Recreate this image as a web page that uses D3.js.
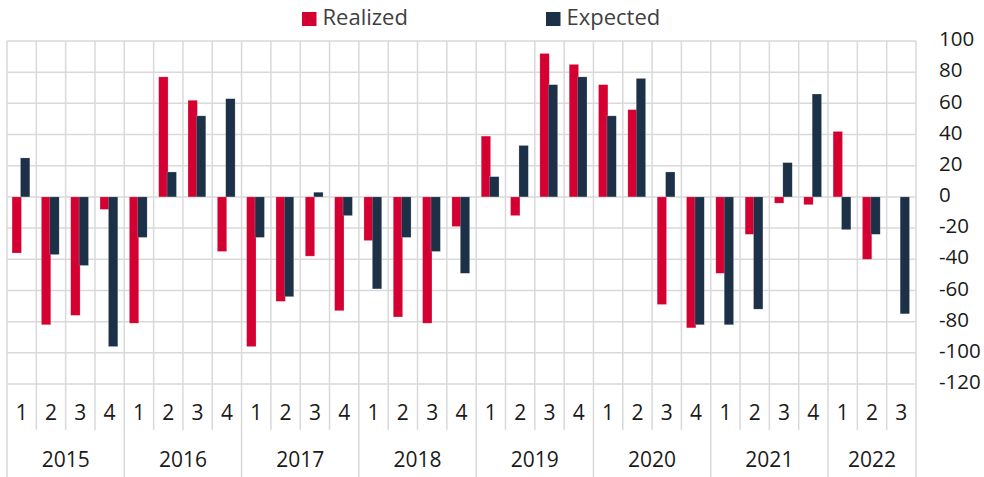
<!DOCTYPE html>
<html>
<head>
<meta charset="utf-8">
<script src="https://cdn.jsdelivr.net/npm/d3@7"></script>
<style>
  body { margin: 0; background: #fff; }
  text { font-family: "Open Sans", sans-serif; }
</style>
</head>
<body>
<script>
// quarters 2015Q1 .. 2022Q3
const years = ["2015", "2016", "2017", "2018", "2019", "2020", "2021", "2022"];
const quarters = ["1", "2", "3", "4"];
const realized = [
  -36, -82, -76, -8,
  -81, 77, 62, -35,
  -96, -67, -38, -73,
  -28, -77, -81, -19,
  39, -12, 92, 85,
  72, 56, -69, -84,
  -49, -24, -4, -5,
  42, -40, null
];
const expected = [
  25, -37, -44, -96,
  -26, 16, 52, 63,
  -26, -64, 3, -12,
  -59, -26, -35, -49,
  13, 33, 72, 77,
  52, 76, 16, -82,
  -82, -72, 22, 66,
  -21, -24, -75
];
const yTicks = [100, 80, 60, 40, 20, 0, -20, -40, -60, -80, -100, -120];

const W = 984, H = 477;
const plotL = 7, plotR = 916, plotT = 41, plotB = 384;
const red = "#d40032", navy = "#1c3048", grid = "#d9d9d9";

const cats = [];
years.forEach(yr => quarters.forEach(q => {
  if (cats.length < realized.length) cats.push(yr + "-" + q);
}));

const x = d3.scaleBand().domain(cats).range([plotL, plotR]).padding(0);
const y = d3.scaleLinear().domain([-120, 100]).range([plotB, plotT]);

const svg = d3.select("body").append("svg")
  .attr("width", W).attr("height", H);

// horizontal gridlines
svg.append("g").selectAll("line").data(yTicks).enter().append("line")
  .attr("x1", plotL).attr("x2", plotR)
  .attr("y1", d => y(d)).attr("y2", d => y(d))
  .attr("stroke", grid).attr("stroke-width", 1.5);

// vertical gridlines: quarter boundaries to label row, year boundaries to bottom
const bounds = d3.range(cats.length + 1);
svg.append("g").selectAll("line").data(bounds).enter().append("line")
  .attr("x1", i => plotL + i * x.bandwidth())
  .attr("x2", i => plotL + i * x.bandwidth())
  .attr("y1", plotT)
  .attr("y2", i => (i % 4 === 0 || i === cats.length) ? H : 430)
  .attr("stroke", grid).attr("stroke-width", 1.5);

// bars
const bw = 9.4;
function drawBars(vals, color, dx) {
  svg.append("g").selectAll("rect")
    .data(vals.map((v, i) => ({ v, c: cats[i] })).filter(d => d.v !== null))
    .enter().append("rect")
    .attr("x", d => x(d.c) + x.bandwidth() / 2 + dx)
    .attr("width", bw)
    .attr("y", d => y(Math.max(0, d.v)))
    .attr("height", d => Math.abs(y(d.v) - y(0)))
    .attr("fill", color)
    .attr("stroke", "#ffffff").attr("stroke-opacity", 0.35).attr("stroke-width", 0.6);
}
drawBars(realized, red, -9.6);
drawBars(expected, navy, -1.2);

// right y-axis labels
svg.append("g").selectAll("text").data(yTicks).enter().append("text")
  .attr("x", 939).attr("y", d => y(d) - 2)
  .attr("dy", "0.35em")
  .attr("font-size", 20.5).attr("fill", "#1a1a1a")
  .text(d => d);

// quarter labels
svg.append("g").selectAll("text").data(cats).enter().append("text")
  .attr("x", d => x(d) + x.bandwidth() / 2).attr("y", 413)
  .attr("dy", "0.35em").attr("text-anchor", "middle")
  .attr("font-size", 21).attr("fill", "#1a1a1a")
  .text(d => d.split("-")[1]);

// year labels
svg.append("g").selectAll("text").data(years).enter().append("text")
  .attr("x", yr => {
    const cs = cats.filter(c => c.startsWith(yr));
    return (x(cs[0]) + x(cs[cs.length - 1]) + x.bandwidth()) / 2;
  })
  .attr("y", 460).attr("dy", "0.35em").attr("text-anchor", "middle")
  .attr("font-size", 21).attr("fill", "#1a1a1a")
  .text(d => d);

// legend
const legend = [{ name: "Realized", color: red, x: 302 }, { name: "Expected", color: navy, x: 546 }];
const lg = svg.append("g").selectAll("g").data(legend).enter().append("g")
  .attr("transform", d => `translate(${d.x},0)`);
lg.append("rect").attr("x", 0).attr("y", 12).attr("width", 14.5).attr("height", 14)
  .attr("fill", d => d.color);
lg.append("text").attr("x", 20.5).attr("y", 17).attr("dy", "0.35em")
  .attr("font-size", 22).attr("fill", "#404040")
  .text(d => d.name);
</script>
</body>
</html>
